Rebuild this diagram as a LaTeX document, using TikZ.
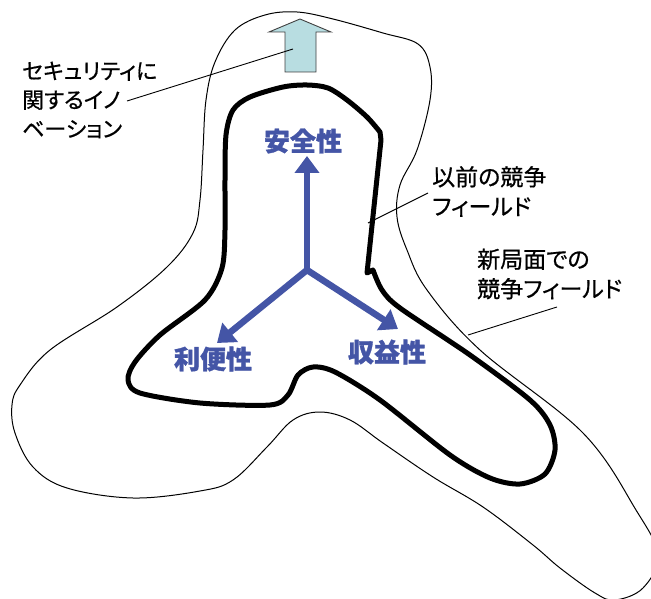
\documentclass[tikz,border=0pt]{standalone}
\usepackage{fontspec}
\newfontfamily\jp[RawFeature=+palt, FakeBold=0.6]{Noto Sans CJK JP}
\newfontfamily\jpbold[BoldFeatures={FakeBold=1.2}]{Noto Sans CJK JP}
\usetikzlibrary{arrows.meta}
\definecolor{axisblue}{HTML}{4455A6}
\definecolor{innofill}{HTML}{B8DDE1}
\definecolor{innoline}{HTML}{404040}
\begin{document}
\begin{tikzpicture}[x=1pt,y=-1pt,
  lbl/.style={font=\jp\fontsize{23}{29.5}\selectfont, align=left, anchor=west, inner sep=0pt, text=black},
  axislbl/.style={font=\jpbold\bfseries\fontsize{26}{30}\selectfont, text=axisblue, inner sep=0pt},
  axisarrow/.style={draw=axisblue, line width=6.5pt, -{Triangle[length=17pt,width=24pt]}},
  leader/.style={draw=black, line width=0.9pt},
  thickfield/.style={draw=black, line width=5pt, line join=round},
  thinfield/.style={draw=black, line width=1pt}]
\useasboundingbox (0,0) rectangle (651,599);

% outer field (new competitive field)
\begin{scope}
\clip (0,0) rectangle (651,599);
\draw[thinfield] plot[smooth cycle, tension=0.6] coordinates {
 (297,12) (333,19) (383,33) (418,44) (430,67) (430,100) (417,150) (400,185)
 (397,217) (407,250) (427,290) (480,350) (583,433) (636,510) (658,555)
 (643,588) (615,600) (595,593) (560,568) (533,545) (483,507) (433,477)
 (383,443) (350,420) (320,412) (293,420) (267,447) (233,480) (200,491)
 (133,498) (67,488) (33,467) (15,433) (12,405) (20,385) (50,350) (117,307)
 (167,267) (193,233) (200,200) (203,150) (206,100) (215,62) (235,30) (265,15)};
\end{scope}

% inner field (previous competitive field)
\draw[thickfield] (367,273) -- (373,270) -- plot[smooth, tension=0.5] coordinates {
 (373,270) (382,290) (400,308) (470,355) (530,400) (550,425)
 (555,450) (545,474) (520,484) (490,478) (450,455) (380,400) (335,372)
 (313,367) (298,375) (288,395) (270,405) (200,403) (140,393) (128,380)
 (135,362) (160,335) (205,300) (222,268) (225,230) (225,180) (226,135)
 (233,110) (250,97) (283,87) (307,85) (328,88) (347,100) (367,117) (380,132)}
 -- (381,140) -- cycle;

% innovation block arrow
\draw[draw=innoline, line width=0.9pt, fill=innofill, line join=miter]
  (300,19) -- (331,32) -- (316,32) -- (316,72) -- (285,72) -- (285,32) -- (269,32) -- cycle;
\coordinate (inno) at (293,49);

% axes
\coordinate (o) at (307,270);
\coordinate (up) at (307,156);
\coordinate (dl) at (217,343);
\coordinate (dr) at (398,329);
\draw[axisarrow] (o) -- (up);
\draw[axisarrow] (o) -- (dl);
\draw[axisarrow] (o) -- (dr);
\node[axislbl] (safety) at (303,141) {安全性};
\node[axislbl] (conv) at (213,359) {利便性};
\node[axislbl] (profit) at (387,352) {収益性};

% labels
\node[lbl, font=\jp\fontsize{22}{29}\selectfont] (innolbl) at (22,100) {セキュリティに\\関するイノ\\ベーション};
\node[lbl] (oldlbl) at (432,191.5) {以前の競争\\フィールド};
\node[lbl] (newlbl) at (477,274) {新局面での\\競争フィールド};

\coordinate (l1) at (127,101);
\coordinate (l2a) at (428,193);
\coordinate (l2b) at (368,223);
\coordinate (l3a) at (557,307);
\coordinate (l3b) at (468,335);
\draw[leader] (l1) -- (inno);
\draw[leader] (l2a) -- (l2b);
\draw[leader] (l3a) -- (l3b);
\end{tikzpicture}
\end{document}
